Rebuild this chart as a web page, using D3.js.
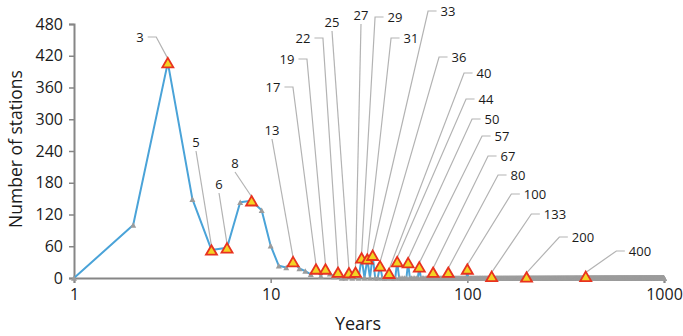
<!DOCTYPE html>
<html>
<head>
<meta charset="utf-8">
<script src="https://cdn.jsdelivr.net/npm/d3@7"></script>
<style>
  html, body { margin: 0; padding: 0; background: #fff; }
  svg { display: block; }
</style>
</head>
<body>
<script>
const fontFamily = "\"Open Sans\", \"Liberation Sans\", Arial, sans-serif";

// counts for years 1..22, read one by one
const earlyCounts = [0, 100, 407, 149, 53, 57, 143, 146, 128, 61, 23, 20, 31, 18, 13, 7, 17, 4, 17, 8, 3, 11];
// non-zero counts after year 22 (every other year up to 1000 is 0)
const tailYears = [25, 27, 29, 31, 33, 36, 40, 44, 50, 57, 67, 80, 100, 133, 200, 400];
const tailCounts = [10, 11, 38, 36, 43, 23, 9, 31, 29, 21, 11, 11, 17, 3, 2, 3];
const lastYear = 1000;

const labelYears = [3, 5, 6, 8, 13, 17, 19, 22, 25, 27, 29, 31, 33, 36, 40, 44, 50, 57, 67, 80, 100, 133, 200, 400];

const yTicks = [0, 60, 120, 180, 240, 300, 360, 420, 480];
const xTicks = [1, 10, 100, 1000];

// label placement (pixels), side of the short leader stub
const labelX = [140, 196, 219, 235, 272, 273, 287, 303, 332, 361, 395, 411, 448, 459, 484, 486, 492, 502, 508, 518, 535, 555, 583, 640];
const labelY = [37, 142, 184, 163, 130, 87, 59, 38, 22, 15, 17, 38, 11, 57, 73, 99, 119, 136, 156, 175, 194, 214, 237, 251];
const labelSide = ["r", "b", "b", "b", "b", "r", "r", "r", "b", "b", "l", "l", "l", "l", "l", "l", "l", "l", "l", "l", "l", "l", "l", "l"];

const width = 683;
const height = 336;

function buildSeries() {
    let tail = new Map(tailYears.map((y, i) => [y, tailCounts[i]]));
    let series = [];
    for (let year = 1; year <= lastYear; year++) {
        let count = year <= earlyCounts.length ? earlyCounts[year - 1] : (tail.get(year) || 0);
        series.push({ year: year, count: count });
    }
    return series;
}

function trianglePath(w, h) {
    return "M0," + (-h / 2) + "L" + (w / 2) + "," + (h / 2) + "L" + (-w / 2) + "," + (h / 2) + "Z";
}

const series = buildSeries();
const byYear = new Map(series.map(d => [d.year, d.count]));

const svg = d3.select("body").append("svg")
    .attr("width", width)
    .attr("height", height);

const x = d3.scaleLog().domain([1, 1000]).range([74, 664]);
const y = d3.scaleLinear().domain([0, 480]).range([278, 24]);

// y axis
const yAxis = svg.append("g")
    .attr("transform", "translate(" + x(1) + ",0)")
    .call(d3.axisLeft(y).tickValues(yTicks).tickSize(5).tickPadding(6).tickFormat(d3.format("d")));
yAxis.select(".domain").attr("stroke", "#868686").attr("stroke-width", 2);
yAxis.selectAll(".tick line").attr("stroke", "#868686").attr("stroke-width", 1.5);
yAxis.selectAll(".tick text")
    .attr("font-family", fontFamily)
    .attr("font-size", 16)
    .attr("fill", "#1a1a1a");

// x axis
const xAxis = svg.append("g")
    .attr("transform", "translate(0," + y(0) + ")")
    .call(d3.axisBottom(x).tickValues(xTicks).tickSize(5).tickPadding(6).tickFormat(d3.format("d")));
xAxis.select(".domain").attr("stroke", "#868686").attr("stroke-width", 2);
xAxis.selectAll(".tick line").attr("stroke", "#868686").attr("stroke-width", 1.5);
xAxis.selectAll(".tick text")
    .attr("font-family", fontFamily)
    .attr("font-size", 16)
    .attr("fill", "#1a1a1a");

// axis titles
svg.append("text")
    .attr("x", 358)
    .attr("y", 330)
    .attr("text-anchor", "middle")
    .attr("font-family", fontFamily)
    .attr("font-size", 18)
    .attr("fill", "#1a1a1a")
    .text("Years");

svg.append("text")
    .attr("transform", "translate(22,149) rotate(-90)")
    .attr("text-anchor", "middle")
    .attr("font-family", fontFamily)
    .attr("font-size", 17.5)
    .attr("fill", "#1a1a1a")
    .text("Number of stations");

// line
const line = d3.line()
    .x(d => x(d.year))
    .y(d => y(d.count));

svg.append("path")
    .datum(series)
    .attr("fill", "none")
    .attr("stroke", "#4aa3d8")
    .attr("stroke-width", 2)
    .attr("stroke-linejoin", "round")
    .attr("d", line);

// small gray markers on every point
svg.append("g")
    .selectAll("path.marker")
    .data(series)
    .enter()
    .append("path")
    .classed("marker", true)
    .attr("transform", d => "translate(" + x(d.year) + "," + y(d.count) + ")")
    .attr("d", trianglePath(6, 5.5))
    .attr("fill", "#9c9c9c");

// leader lines and labels
const labels = labelYears.map((yr, i) => ({
    year: yr,
    count: byYear.get(yr),
    lx: labelX[i],
    ly: labelY[i],
    side: labelSide[i]
}));

const labelG = svg.append("g");
const texts = labelG.selectAll("text.label")
    .data(labels)
    .enter()
    .append("text")
    .classed("label", true)
    .attr("x", d => d.lx)
    .attr("y", d => d.ly)
    .attr("dy", "0.35em")
    .attr("text-anchor", "middle")
    .attr("font-family", fontFamily)
    .attr("font-size", 13)
    .attr("fill", "#1a1a1a")
    .text(d => d.year);

texts.each(function (d) {
    d.w = this.getComputedTextLength();
});

const leaderG = svg.insert("g", "g.redmarkers");
labels.forEach(d => {
    let px = x(d.year);
    let py = y(d.count) - 4;
    let pts;
    if (d.side === "r") {
        let x0 = d.lx + d.w / 2 + 4;
        pts = [[x0, d.ly], [x0 + 8.5, d.ly], [px, py]];
    } else if (d.side === "l") {
        let x0 = d.lx - d.w / 2 - 4;
        pts = [[x0, d.ly], [x0 - 8.5, d.ly], [px, py]];
    } else {
        pts = [[d.lx, d.ly + 9], [px, py]];
    }
    leaderG.append("path")
        .attr("d", d3.line()(pts))
        .attr("fill", "none")
        .attr("stroke", "#b3b3b3")
        .attr("stroke-width", 1.2);
});

// highlighted markers
svg.append("g")
    .classed("redmarkers", true)
    .selectAll("path")
    .data(labels)
    .enter()
    .append("path")
    .attr("transform", d => "translate(" + x(d.year) + "," + y(d.count) + ")")
    .attr("d", trianglePath(11, 9.5))
    .attr("fill", "#f3d324")
    .attr("stroke", "#e8321f")
    .attr("stroke-width", 1.8)
    .attr("stroke-linejoin", "miter");

labelG.raise();
</script>
</body>
</html>
